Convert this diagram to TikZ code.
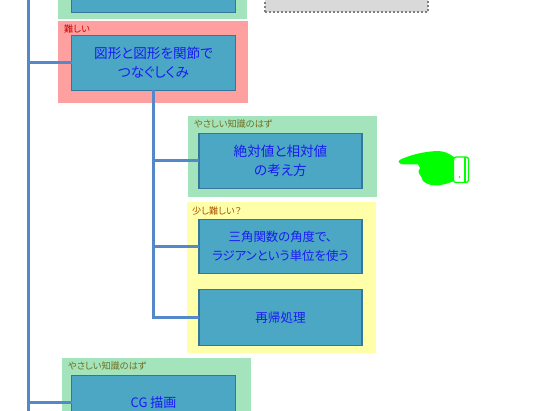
\documentclass[tikz,border=0pt]{standalone}
\usepackage{fontspec}
\setmainfont[RawFeature=+palt]{Noto Sans CJK JP}
\definecolor{teal1}{HTML}{4BA7C4}
\definecolor{tealb}{HTML}{34779A}
\definecolor{txtb}{HTML}{1A1AF5}
\definecolor{bggreen}{HTML}{A3E4BC}
\definecolor{bgred}{HTML}{FFA0A0}
\definecolor{bgyellow}{HTML}{FFFFAA}
\definecolor{linkb}{HTML}{5488C8}
\definecolor{handg}{HTML}{00FF00}
\tikzset{
  topic/.style={draw=tealb,fill=teal1,line width=1.2pt,text=txtb,align=center,minimum width=164pt,minimum height=54.5pt,inner sep=0pt,outer sep=0pt,font=\fontsize{13.6}{19}\selectfont},
  lvl/.style={anchor=west,inner sep=0pt,font=\fontsize{9.2}{10}\selectfont},
  link/.style={draw=linkb,line width=3pt},
}
\begin{document}
\begin{tikzpicture}[x=1pt,y=-1pt]
\useasboundingbox (0,0) rectangle (533,411);
\clip (0,0) rectangle (533,411);
% bands
\fill[bggreen] (58,-40) rectangle (247,19);
\fill[bgred] (58,21) rectangle (248,103.5);
\fill[bggreen] (188,116) rectangle (377,197.5);
\fill[bgyellow] (187,202) rectangle (376,353.5);
\fill[bggreen] (62,358) rectangle (250.5,430);
% grey box
\node[draw=black!50,dotted,line width=2pt,fill=black!15,minimum width=163pt,minimum height=50pt,inner sep=0pt,outer sep=0pt] (grey) at (346.5,-12.5) {};
% topics
\node[topic] (top) at (153.5,-15) {};
\node[topic] (joint) at (153.5,63) {図形と図形を関節で\\つなぐしくみ};
\node[topic,minimum width=163pt] (abs) at (280.5,161) {絶対値と相対値\\の考え方};
\node[topic,minimum width=163pt,font=\fontsize{12.4}{19}\selectfont] (trig) at (280.5,246.5) {三角関数の角度で、\\ラジアンという単位を使う};
\node[topic,minimum width=163pt,minimum height=56pt,font=\fontsize{12.6}{19}\selectfont] (rec) at (280.5,317.5) {再帰処理};
\node[topic,font=\fontsize{13}{19}\selectfont] (cg) at (153.5,403) {CG 描画};
% level labels
\node[lvl,text=red!80!black] (l1) at (64,29.5) {難しい};
\node[lvl,text=olive!75!black] (l2) at (194,124.5) {やさしい知識のはず};
\node[lvl,text=orange!65!black] (l3) at (192,211) {少し難しい？};
\node[lvl,text=olive!75!black] (l4) at (68,366.5) {やさしい知識のはず};
% connectors
\coordinate (t1) at (28.2,-5);
\coordinate (t2) at (28.2,416);
\coordinate (t3) at (153.7,90);
\draw[link] (t1) -- (t2);
\draw[link] (t1 |- joint.west) -- (joint.west);
\draw[link] (t1 |- cg.west) -- (cg.west);
\draw[link,line join=miter] (t3) -- (t3 |- rec.west) -- (rec.west);
\draw[link] (t3 |- abs.west) -- (abs.west);
\draw[link] (t3 |- trig.west) -- (trig.west);
% hand
\fill[handg] (398.5,161.5)
  .. controls (399,159.5) and (404,158) .. (408,156.5)
  .. controls (418,153) and (428,151.5) .. (437,151)
  .. controls (444,151) and (448,153) .. (454,157)
  -- (454,181)
  .. controls (449,183) and (445,184.5) .. (438,185.5)
  .. controls (432,186) and (426,184) .. (423,181)
  .. controls (422,178) and (421,176) .. (420,175)
  .. controls (418,172) and (418,170) .. (420,168)
  -- (418,164.5)
  -- (404,164.5)
  .. controls (401,164.5) and (398.5,163) .. (398.5,161.5) -- cycle;
\draw[handg,line width=1.3pt,fill=white,rounded corners=2.5pt] (453.5,157) rectangle (468.5,182.5);
\draw[handg,line width=1.2pt] (465,157) -- (465,182.5);
\fill[handg] (459.5,177) circle (0.9);
\end{tikzpicture}
\end{document}
